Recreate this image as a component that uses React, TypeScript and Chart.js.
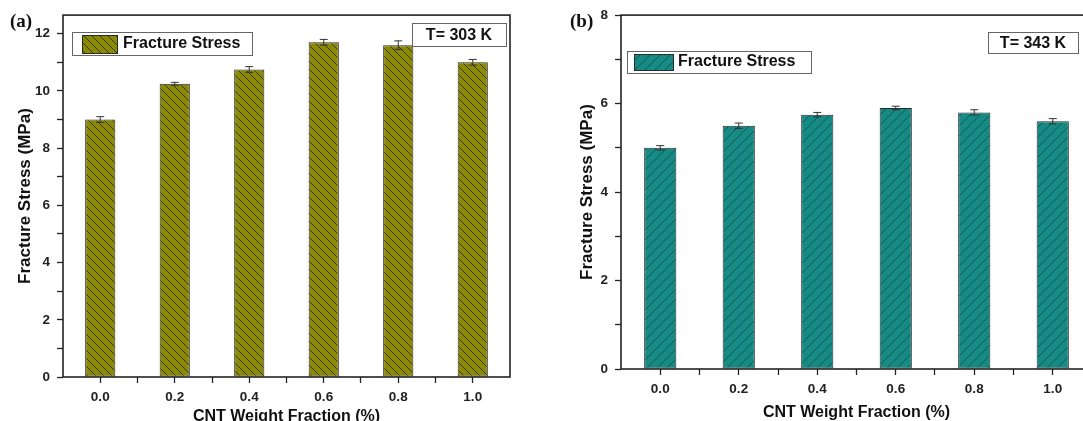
import React, { useEffect, useRef } from "react";
import { Chart, registerables } from "chart.js";

Chart.register(...registerables);

// ---------- data ----------
const cntFractions = [0.0, 0.2, 0.4, 0.6, 0.8, 1.0];
const stress303K = [9.0, 10.25, 10.75, 11.7, 11.6, 11.0];
const error303K = [0.1, 0.05, 0.1, 0.1, 0.15, 0.1];
const stress343K = [5.0, 5.5, 5.75, 5.9, 5.8, 5.6];
const error343K = [0.05, 0.06, 0.05, 0.04, 0.06, 0.06];

const xTickValues = [0.0, 0.1, 0.2, 0.3, 0.4, 0.5, 0.6, 0.7, 0.8, 0.9, 1.0];
const xLabelValues = [0.0, 0.2, 0.4, 0.6, 0.8, 1.0];
const yTicks303K = [0, 1, 2, 3, 4, 5, 6, 7, 8, 9, 10, 11, 12];
const yLabels303K = [0, 2, 4, 6, 8, 10, 12];
const yTicks343K = [0, 1, 2, 3, 4, 5, 6, 7, 8];
const yLabels343K = [0, 2, 4, 6, 8];

const seriesName = "Fracture Stress";
const xAxisTitle = "CNT Weight Fraction (%)";
const yAxisTitle = "Fracture Stress (MPa)";
const tempLabelA = "T= 303 K";
const tempLabelB = "T= 343 K";
const panelLabelA = "(a)";
const panelLabelB = "(b)";

const SANS = "'Liberation Sans', Arial, sans-serif";
const CANVAS_H = 430;

type Rect = [number, number, number, number];

type PanelSpec = {
  values: number[];
  errors: number[];
  yTicks: number[];
  yLabels: number[];
  yMax: number;
  tempLabel: string;
  fill: string;
  hatchColor: string;
  hatchDir: 1 | -1;
  hatchPeriod: number;
  canvasLeft: number;
  canvasWidth: number;
  padRight: number;
  yWidth: number;
  xHeight: number;
  yTitlePad: number;
  xTitlePad: number;
  barPct: number;
  legendBox: Rect;
  swatch: Rect;
  legendText: [number, number];
  tempBox: Rect;
};

function makeHatch(fill: string, line: string, period: number, dir: 1 | -1) {
  const c = document.createElement("canvas");
  c.width = period;
  c.height = period;
  const g = c.getContext("2d")!;
  g.fillStyle = fill;
  g.fillRect(0, 0, period, period);
  g.strokeStyle = line;
  g.lineWidth = 1;
  for (const k of [-period, 0, period]) {
    g.beginPath();
    if (dir === 1) {
      g.moveTo(k, 0);
      g.lineTo(k + period, period);
    } else {
      g.moveTo(k, period);
      g.lineTo(k + period, 0);
    }
    g.stroke();
  }
  return g.createPattern(c, "repeat")!;
}

function decorPlugin(spec: PanelSpec, pattern: CanvasPattern) {
  return {
    id: "decor",
    afterDatasetsDraw(chart: any) {
      const ctx = chart.ctx as CanvasRenderingContext2D;
      const yScale = chart.scales.y;
      const meta = chart.getDatasetMeta(0);
      ctx.save();
      ctx.strokeStyle = "#333";
      ctx.lineWidth = 1;
      meta.data.forEach((el: any, i: number) => {
        const v = spec.values[i];
        const e = spec.errors[i];
        const yt = yScale.getPixelForValue(v + e);
        const yb = yScale.getPixelForValue(v - e);
        const x = el.x;
        ctx.beginPath();
        ctx.moveTo(x, yt);
        ctx.lineTo(x, yb);
        ctx.moveTo(x - 4, yt);
        ctx.lineTo(x + 4, yt);
        ctx.moveTo(x - 4, yb);
        ctx.lineTo(x + 4, yb);
        ctx.stroke();
      });
      ctx.restore();
    },
    afterDraw(chart: any) {
      const ctx = chart.ctx as CanvasRenderingContext2D;
      const a = chart.chartArea;
      ctx.save();
      // frame
      ctx.strokeStyle = "#222";
      ctx.lineWidth = 1.6;
      ctx.strokeRect(a.left, a.top, a.right - a.left, a.bottom - a.top);

      // legend
      const [lx, ly, lw, lh] = spec.legendBox;
      ctx.fillStyle = "#fff";
      ctx.fillRect(lx, ly, lw, lh);
      ctx.strokeStyle = "#666";
      ctx.lineWidth = 1;
      ctx.strokeRect(lx + 0.5, ly + 0.5, lw, lh);
      const [sx, sy, sw, sh] = spec.swatch;
      ctx.fillStyle = pattern;
      ctx.fillRect(sx, sy, sw, sh);
      ctx.strokeStyle = "#2a2a2a";
      ctx.strokeRect(sx + 0.5, sy + 0.5, sw, sh);
      ctx.fillStyle = "#111";
      ctx.font = `bold 16px ${SANS}`;
      ctx.textAlign = "left";
      ctx.textBaseline = "middle";
      ctx.fillText(seriesName, spec.legendText[0], spec.legendText[1]);

      // temperature box
      const [tx, ty, tw, th] = spec.tempBox;
      ctx.fillStyle = "#fff";
      ctx.fillRect(tx, ty, tw, th);
      ctx.strokeStyle = "#666";
      ctx.strokeRect(tx + 0.5, ty + 0.5, tw, th);
      ctx.fillStyle = "#111";
      ctx.textAlign = "center";
      ctx.fillText(spec.tempLabel, tx + tw / 2, ty + th / 2 + 1);
      ctx.restore();
    },
  };
}

function Panel({ spec }: { spec: PanelSpec }) {
  const ref = useRef<HTMLCanvasElement | null>(null);
  useEffect(() => {
    const canvas = ref.current!;
    const pattern = makeHatch(spec.fill, spec.hatchColor, spec.hatchPeriod, spec.hatchDir);
    const data = cntFractions.map((f, i) => ({ x: f, y: spec.values[i] }));
    const tickFont = { family: SANS, size: 13.5, weight: "bold" as const };
    const chart = new Chart(canvas, {
      type: "bar",
      data: {
        datasets: [
          {
            label: seriesName,
            data,
            backgroundColor: pattern as any,
            borderColor: "#2a2a2a",
            borderWidth: 1,
            borderSkipped: false,
            barPercentage: spec.barPct,
            categoryPercentage: 1,
          },
        ],
      },
      options: {
        animation: false,
        responsive: false,
        maintainAspectRatio: false,
        layout: { padding: { left: 0, top: 15, right: spec.padRight, bottom: 0 } },
        plugins: { legend: { display: false }, tooltip: { enabled: false } },
        scales: {
          x: {
            type: "linear",
            min: -0.1,
            max: 1.1,
            offset: false,
            afterBuildTicks: (s: any) => {
              s.ticks = xTickValues.map((v) => ({ value: v }));
            },
            afterFit: (s: any) => {
              s.height = spec.xHeight;
            },
            ticks: {
              font: tickFont,
              color: "#222",
              padding: 6,
              maxRotation: 0,
              autoSkip: false,
              callback: (v: any) =>
                xLabelValues.some((l) => Math.abs(l - v) < 1e-6) ? Number(v).toFixed(1) : "",
            },
            grid: {
              display: true,
              offset: false,
              drawOnChartArea: false,
              drawTicks: true,
              tickLength: 6,
              tickColor: "#222",
              tickWidth: 1.3,
            },
            border: { display: false },
            title: {
              display: true,
              text: xAxisTitle,
              color: "#111",
              font: { family: SANS, size: 16, weight: "bold" },
              padding: { top: 0, bottom: spec.xTitlePad },
            },
          },
          y: {
            type: "linear",
            min: 0,
            max: spec.yMax,
            afterBuildTicks: (s: any) => {
              s.ticks = spec.yTicks.map((v) => ({ value: v }));
            },
            afterFit: (s: any) => {
              s.width = spec.yWidth;
            },
            ticks: {
              font: tickFont,
              color: "#222",
              padding: 7,
              autoSkip: false,
              callback: (v: any) => (spec.yLabels.includes(Number(v)) ? String(v) : ""),
            },
            grid: {
              display: true,
              drawOnChartArea: false,
              drawTicks: true,
              tickLength: 6,
              tickColor: "#222",
              tickWidth: 1.3,
            },
            border: { display: false },
            title: {
              display: true,
              text: yAxisTitle,
              color: "#111",
              font: { family: SANS, size: 17, weight: "bold" },
              padding: { top: spec.yTitlePad, bottom: 0 },
            },
          },
        },
      } as any,
      plugins: [decorPlugin(spec, pattern)],
    });
    return () => chart.destroy();
  }, [spec]);
  return (
    <canvas
      ref={ref}
      width={spec.canvasWidth}
      height={CANVAS_H}
      style={{
        position: "absolute",
        left: spec.canvasLeft,
        top: 0,
        width: spec.canvasWidth,
        height: CANVAS_H,
      }}
    />
  );
}

const specA: PanelSpec = {
  values: stress303K,
  errors: error303K,
  yTicks: yTicks303K,
  yLabels: yLabels303K,
  yMax: 12.65,
  tempLabel: tempLabelA,
  fill: "#8a8a08",
  hatchColor: "#3c3c00",
  hatchDir: 1,
  hatchPeriod: 8,
  canvasLeft: 0,
  canvasWidth: 545,
  padRight: 35,
  yWidth: 63,
  xHeight: CANVAS_H - 377,
  yTitlePad: 15,
  xTitlePad: 4,
  barPct: 0.81,
  legendBox: [72, 32, 180, 23],
  swatch: [82, 35, 35, 18],
  legendText: [123, 44],
  tempBox: [412, 23, 94, 23],
};

const specB: PanelSpec = {
  values: stress343K,
  errors: error343K,
  yTicks: yTicks343K,
  yLabels: yLabels343K,
  yMax: 8,
  tempLabel: tempLabelB,
  fill: "#168a85",
  hatchColor: "#0d5652",
  hatchDir: -1,
  hatchPeriod: 10,
  canvasLeft: 545,
  canvasWidth: 560,
  padRight: 13,
  yWidth: 76,
  xHeight: CANVAS_H - 369,
  yTitlePad: 32,
  xTitlePad: 8,
  barPct: 0.82,
  legendBox: [82, 51, 184, 22],
  swatch: [89, 54, 39, 16],
  legendText: [133, 62],
  tempBox: [443, 32, 90, 21],
};

const labelStyle: React.CSSProperties = {
  position: "absolute",
  top: 11,
  fontFamily: "'Liberation Serif', 'Times New Roman', serif",
  fontWeight: "bold",
  fontSize: 19,
  lineHeight: 1,
  color: "#111",
};

export default function App() {
  return (
    <div
      style={{
        position: "absolute",
        left: 0,
        top: 0,
        width: 1083,
        height: 421,
        overflow: "hidden",
        background: "#fff",
      }}
    >
      <Panel spec={specA} />
      <Panel spec={specB} />
      <div style={{ ...labelStyle, left: 10 }}>{panelLabelA}</div>
      <div style={{ ...labelStyle, left: 570 }}>{panelLabelB}</div>
    </div>
  );
}
